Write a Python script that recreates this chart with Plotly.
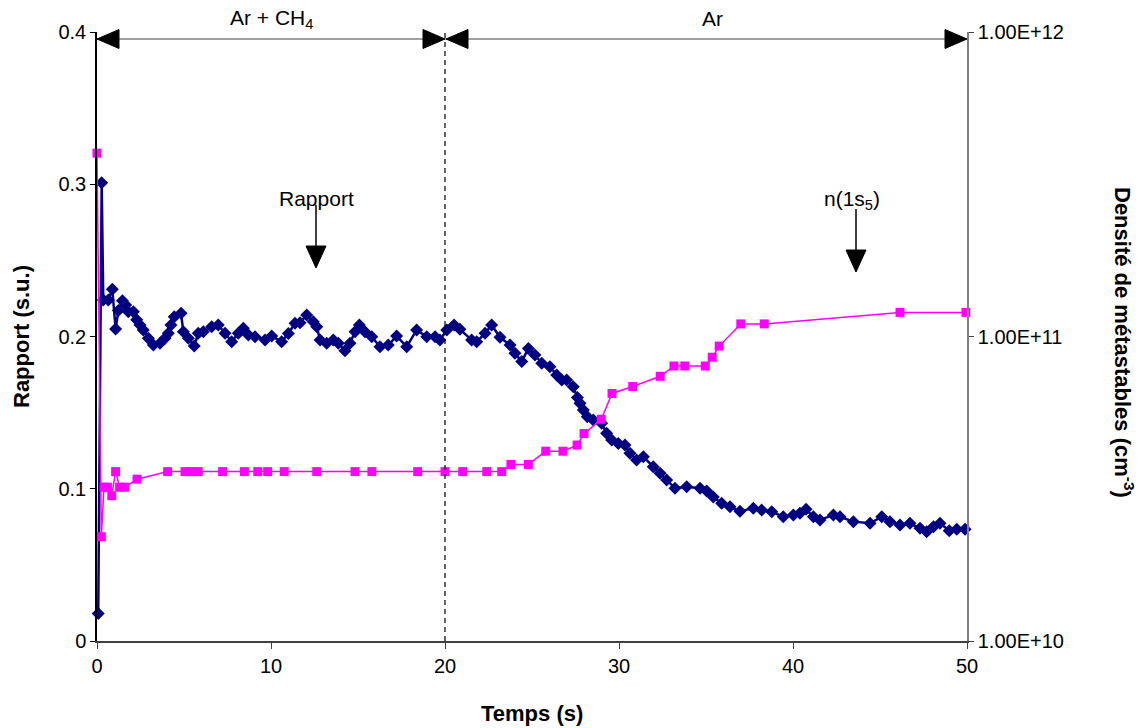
import plotly.graph_objects as go

# ---- data ----
rapport_t = [0.07, 0.27, 0.36, 0.65, 0.88, 1.07, 1.23, 1.46, 1.65, 1.80, 2.09, 2.28, 2.47, 2.66, 2.95,
             3.24, 3.62, 3.91, 4.10, 4.25, 4.44, 4.83, 4.96, 5.25, 5.59, 5.82, 6.11, 6.59, 6.97, 7.36,
             7.74, 8.12, 8.41, 8.70, 9.08, 9.66, 10.04, 10.61, 11.0, 11.38, 11.67, 12.05, 12.43, 12.63,
             12.82, 13.20, 13.58, 13.87, 14.25, 14.54, 14.83, 15.08, 15.40, 15.79, 16.26, 16.74, 17.22,
             17.80, 18.37, 18.95, 19.43, 19.71, 20.10, 20.52, 20.86, 21.53, 21.82, 22.30, 22.68, 23.16,
             23.74, 24.02, 24.41, 24.79, 25.17, 25.56, 26.03, 26.42, 26.71, 26.99, 27.37, 27.61, 27.76,
             27.95, 28.18, 28.52, 29.0, 29.29, 29.58, 29.96, 30.34, 30.63, 31.01, 31.40, 31.97, 32.36,
             32.74, 33.22, 33.89, 34.66, 35.04, 35.42, 35.9, 36.38, 36.95, 37.72, 38.2, 38.78, 39.44,
             40.02, 40.4, 40.75, 41.17, 41.55, 42.32, 42.70, 43.47, 44.43, 45.1, 45.57, 46.15, 46.72,
             47.3, 47.68, 48.07, 48.45, 48.98, 49.41, 49.89]
rapport_v = [0.018, 0.301, 0.224, 0.224, 0.231, 0.205, 0.217, 0.2235, 0.2207, 0.2163, 0.2163, 0.211,
             0.2076, 0.2043, 0.1988, 0.1944, 0.1955, 0.1988, 0.2021, 0.2076, 0.213, 0.2152, 0.2032,
             0.1988, 0.1938, 0.2021, 0.2032, 0.2064, 0.2076, 0.2021, 0.1966, 0.2021, 0.2054, 0.201,
             0.1999, 0.1977, 0.2003, 0.1966, 0.202, 0.2087, 0.209, 0.2141, 0.2097, 0.2064, 0.1977,
             0.1955, 0.1977, 0.1955, 0.1907, 0.1955, 0.2032, 0.2076, 0.2032, 0.1999, 0.1933, 0.1944,
             0.2003, 0.1933, 0.2043, 0.1999, 0.1999, 0.1977, 0.2043, 0.2076, 0.2047, 0.1977, 0.1966,
             0.2021, 0.2076, 0.1995, 0.1944, 0.189, 0.1835, 0.1922, 0.1878, 0.1824, 0.1802, 0.1747,
             0.1714, 0.1714, 0.167, 0.16, 0.1561, 0.1517, 0.1473, 0.1452, 0.143, 0.1364, 0.132, 0.1298,
             0.1287, 0.1233, 0.1189, 0.121, 0.1145, 0.1101, 0.1057, 0.1003, 0.1013, 0.1003, 0.0985,
             0.0945, 0.0904, 0.0882, 0.0852, 0.0872, 0.086, 0.0849, 0.0816, 0.0828, 0.0839, 0.0865,
             0.0816, 0.0795, 0.0828, 0.0816, 0.0784, 0.0773, 0.0816, 0.0784, 0.0762, 0.0773, 0.074,
             0.0718, 0.0751, 0.0773, 0.0724, 0.0734, 0.0734]

dens_t = [0, 0.25, 0.4, 0.6, 0.85, 1.07, 1.3, 1.6, 2.3, 4.06, 5.06, 5.40, 5.82, 7.22, 8.47, 9.24, 9.81,
          10.76, 12.63, 14.83, 15.80, 18.43, 20.0, 21.02, 22.40, 23.26, 23.79, 24.79, 25.79, 26.78,
          27.59, 27.99, 28.98, 29.60, 30.79, 32.37, 33.16, 33.78, 34.96, 35.36, 35.76, 37.0, 38.35,
          46.15, 49.94]
dens_n = [4.0e11, 2.2e10, 3.2e10, 3.2e10, 3.0e10, 3.6e10, 3.2e10, 3.2e10, 3.4e10, 3.6e10, 3.6e10,
          3.6e10, 3.6e10, 3.6e10, 3.6e10, 3.6e10, 3.6e10, 3.6e10, 3.6e10, 3.6e10, 3.6e10, 3.6e10,
          3.6e10, 3.6e10, 3.6e10, 3.6e10, 3.8e10, 3.8e10, 4.2e10, 4.2e10, 4.4e10, 4.8e10, 5.35e10,
          6.5e10, 6.85e10, 7.4e10, 8.0e10, 8.0e10, 8.0e10, 8.55e10, 9.3e10, 1.1e11, 1.1e11, 1.2e11,
          1.2e11]

x_ticks = [0, 10, 20, 30, 40, 50]
y_ticks = [0, 0.1, 0.2, 0.3, 0.4]
y_ticklabels = ["0", "0.1", "0.2", "0.3", "0.4"]
y2_ticks = [1e10, 1e11, 1e12]
y2_ticklabels = ["1.00E+10", "1.00E+11", "1.00E+12"]
phase_switch = 20

FONT = "Liberation Sans, Arial, sans-serif"
NAVY = "#000080"
MAGENTA = "#FF00FF"
TICK_SIZE = 20
LABEL_SIZE = 21
TITLE_SIZE = 22

W, H = 1141, 728
ML, MR, MT, MB = 97, 174, 32, 87
PW, PH = W - ML - MR, H - MT - MB   # 870 x 609


def px_x(p):   # page pixel -> paper fraction (x)
    return (p - ML) / PW


def px_y(p):   # page pixel -> paper fraction (y)
    return (H - MB - p) / PH


fig = go.Figure()
fig.add_trace(go.Scatter(x=dens_t, y=dens_n, mode="lines+markers", yaxis="y2",
                         line=dict(color=MAGENTA, width=1.5),
                         marker=dict(symbol="square", size=9, color=MAGENTA),
                         cliponaxis=False, showlegend=False))
fig.add_trace(go.Scatter(x=rapport_t, y=rapport_v, mode="lines+markers",
                         line=dict(color=NAVY, width=2.5),
                         marker=dict(symbol="diamond", size=10, color=NAVY),
                         cliponaxis=False, showlegend=False))

fig.update_layout(
    width=W, height=H,
    margin=dict(l=ML, r=MR, t=MT, b=MB),
    paper_bgcolor="white", plot_bgcolor="white",
    font=dict(family=FONT, size=TICK_SIZE, color="black"),
    xaxis=dict(range=[0, 50], tickvals=x_ticks, showgrid=False, zeroline=False,
               showline=True, linecolor="#404040", linewidth=1.5, ticks="outside",
               ticklen=6, tickcolor="#404040", tickfont=dict(size=TICK_SIZE)),
    yaxis=dict(range=[0, 0.4], tickvals=y_ticks, ticktext=y_ticklabels, showgrid=False,
               zeroline=False, showline=True, linecolor="black", linewidth=1.5,
               ticks="outside", ticklen=5, tickcolor="black", tickfont=dict(size=TICK_SIZE)),
    yaxis2=dict(type="log", range=[10, 12], tickvals=y2_ticks, ticktext=y2_ticklabels,
                overlaying="y", side="right", showgrid=False, zeroline=False,
                showline=True, linecolor="#808080", linewidth=1.5, ticks="outside",
                ticklen=5, tickcolor="#404040", tickfont=dict(size=TICK_SIZE)),
)

y_arrow = px_y(39)
shapes = [
    dict(type="line", xref="x", yref="paper", x0=phase_switch, x1=phase_switch, y0=0, y1=1,
         line=dict(color="black", width=1.2, dash="5px,4px")),
    dict(type="line", xref="x", yref="paper", x0=0, x1=50, y0=y_arrow, y1=y_arrow,
         line=dict(color="#808080", width=1.5)),
]
tri_specs = [(0, "M0,0 L22,9.5 L22,-9.5 Z"),
             (phase_switch, "M0,0 L-22,9.5 L-22,-9.5 Z"),
             (phase_switch, "M1,0 L23,9.5 L23,-9.5 Z"),
             (50, "M0,0 L-22,9.5 L-22,-9.5 Z")]
for xa, p in tri_specs:
    shapes.append(dict(type="path", xref="x", yref="paper", xsizemode="pixel",
                       ysizemode="pixel", xanchor=xa, yanchor=y_arrow, path=p,
                       fillcolor="black", line=dict(color="black", width=1)))

# pointer arrows (Rapport and n(1s5))
for xa, tip in [((316 - 97) / 17.4, (641 - 268) / 1522.5), ((856 - 97) / 17.4, (641 - 272) / 1522.5)]:
    shapes.append(dict(type="line", xref="x", yref="y", xsizemode="pixel", ysizemode="pixel",
                       xanchor=xa, yanchor=tip, x0=0, x1=0, y0=20, y1=63,
                       line=dict(color="black", width=1.5)))
    shapes.append(dict(type="path", xref="x", yref="y", xsizemode="pixel", ysizemode="pixel",
                       xanchor=xa, yanchor=tip, path="M0,0 L-10,22 L10,22 Z",
                       fillcolor="black", line=dict(color="black", width=1)))
fig.update_layout(shapes=shapes)

annotations = [
    dict(text="Ar + CH<sub>4</sub>", x=10, y=px_y(19), xref="x", yref="paper",
         showarrow=False, font=dict(size=LABEL_SIZE), xanchor="center", yanchor="middle"),
    dict(text="Ar", x=(712 - 97) / 17.4, y=px_y(18), xref="x", yref="paper",
         showarrow=False, font=dict(size=LABEL_SIZE), xanchor="center", yanchor="middle"),
    dict(text="Rapport", x=(316 - 97) / 17.4, y=(641 - 198) / 1522.5, xref="x", yref="y",
         showarrow=False, font=dict(size=LABEL_SIZE), xanchor="center", yanchor="middle"),
    dict(text="n(1s<sub>5</sub>)", x=(852 - 97) / 17.4, y=(641 - 200) / 1522.5, xref="x", yref="y",
         showarrow=False, font=dict(size=LABEL_SIZE), xanchor="center", yanchor="middle"),
    dict(text="<b>Rapport (s.u.)</b>", x=px_x(22), y=px_y(337),
         xref="paper", yref="paper", showarrow=False, textangle=-90,
         font=dict(size=TITLE_SIZE), xanchor="center", yanchor="middle"),
    dict(text="<b>Temps (s)</b>", x=px_x(532), y=px_y(713),
         xref="paper", yref="paper", showarrow=False,
         font=dict(size=TITLE_SIZE), xanchor="center", yanchor="middle"),
    dict(text="<b>Densité de métastables (cm<sup>-3</sup>)</b>", x=px_x(1124),
         y=px_y(342), xref="paper", yref="paper", showarrow=False, textangle=90,
         font=dict(size=TITLE_SIZE), xanchor="center", yanchor="middle"),
]
fig.update_layout(annotations=annotations)

# remove the browser's default 8 px body margin so the figure fills the window exactly
fig.write_html("out.html", config={"displayModeBar": False},
               post_script="document.body.style.margin='0';document.body.style.padding='0';")
